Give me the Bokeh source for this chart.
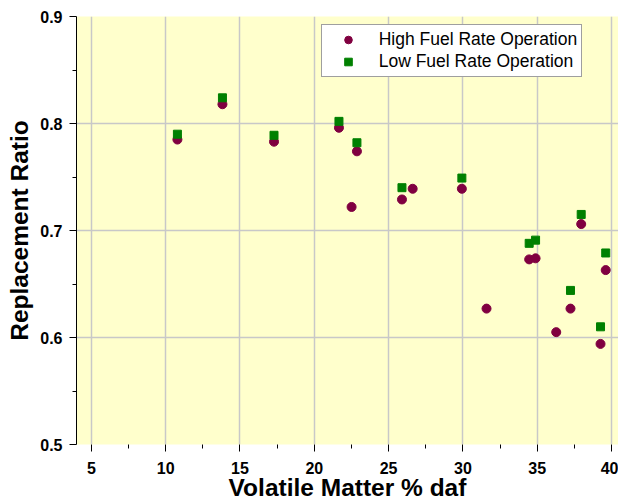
from bokeh.plotting import figure
from bokeh.models import FixedTicker, Range1d, Legend, LegendItem
from bokeh.embed import file_html
from bokeh.resources import INLINE

# High fuel rate operation (circles)
high_vm = [10.79, 13.82, 17.29, 21.66, 22.87, 22.51, 25.90, 26.62, 29.93, 31.59,
           34.46, 34.89, 36.28, 37.24, 37.96, 39.26, 39.61]
high_rr = [0.785, 0.818, 0.783, 0.796, 0.774, 0.722, 0.729, 0.739, 0.739, 0.627,
           0.673, 0.674, 0.605, 0.627, 0.706, 0.594, 0.663]

# Low fuel rate operation (squares)
low_vm = [10.79, 13.82, 17.29, 21.66, 22.87, 25.90, 29.93, 34.46, 34.89, 37.24,
          37.96, 39.26, 39.61]
low_rr = [0.790, 0.824, 0.789, 0.802, 0.782, 0.740, 0.749, 0.688, 0.691, 0.644,
          0.715, 0.610, 0.679]

x_ticks = [5, 10, 15, 20, 25, 30, 35, 40]
x_minor = [7.5, 12.5, 17.5, 22.5, 27.5, 32.5, 37.5]
y_ticks = [0.5, 0.6, 0.7, 0.8, 0.9]
y_minor = [0.55, 0.65, 0.75, 0.85]

FONT = "Liberation Sans"

p = figure(width=618, height=503, output_backend="svg", toolbar_location=None,
           x_range=Range1d(4, 40.47), y_range=Range1d(0.5, 0.9),
           min_border_left=76, min_border_right=0, min_border_top=16,
           min_border_bottom=59)
p.border_fill_color = "white"
p.background_fill_color = "#FFFFCC"
p.outline_line_color = None

hr = p.scatter(high_vm, high_rr, marker="circle", size=9, color="#800040")
lr = p.scatter(low_vm, low_rr, marker="square", size=8, color="#008000")

for ax, ticks, minor in ((p.xaxis[0], x_ticks, x_minor), (p.yaxis[0], y_ticks, y_minor)):
    ax.ticker = FixedTicker(ticks=ticks, minor_ticks=minor)
    ax.major_label_text_font = FONT
    ax.major_label_text_font_style = "bold"
    ax.major_label_text_font_size = "16px"
    ax.major_label_text_color = "black"
    ax.axis_label_text_font = FONT
    ax.axis_label_text_font_style = "bold"
    ax.axis_label_text_font_size = "24.5px"
    ax.axis_label_text_color = "black"
    ax.major_tick_line_color = "black"
    ax.minor_tick_line_color = "black"
    ax.major_tick_out = 7
    ax.major_tick_in = 0
    ax.minor_tick_out = 4
    ax.minor_tick_in = 0

p.xaxis.axis_label = "Volatile Matter % daf"
p.yaxis.axis_label = "Replacement Ratio"
p.xaxis.axis_line_color = None
p.yaxis.axis_line_color = "black"
p.xaxis.major_label_standoff = 10
p.yaxis.major_label_standoff = 7
p.xaxis.axis_label_standoff = -3
p.yaxis.axis_label_standoff = 4
p.yaxis.formatter.use_scientific = False

p.xgrid.ticker = FixedTicker(ticks=x_ticks)
p.ygrid.ticker = FixedTicker(ticks=y_ticks)
p.grid.grid_line_color = "#C8C8C8"
p.grid.grid_line_width = 1.5

legend = Legend(items=[LegendItem(label="High Fuel Rate Operation", renderers=[hr]),
                       LegendItem(label="Low Fuel Rate Operation", renderers=[lr])],
                location=(244.7, 367))
legend.label_text_font = FONT
legend.label_text_font_size = "17.5px"
legend.label_text_color = "black"
legend.padding = 4
legend.margin = 0
legend.glyph_width = 44
legend.glyph_height = 19
legend.label_height = 19
legend.label_standoff = 9
legend.spacing = 1
legend.border_line_color = "#404040"
legend.border_line_width = 1
legend.background_fill_color = "white"
legend.background_fill_alpha = 1
p.add_layout(legend, "center")

open("out.html", "w").write(file_html(p, INLINE))
